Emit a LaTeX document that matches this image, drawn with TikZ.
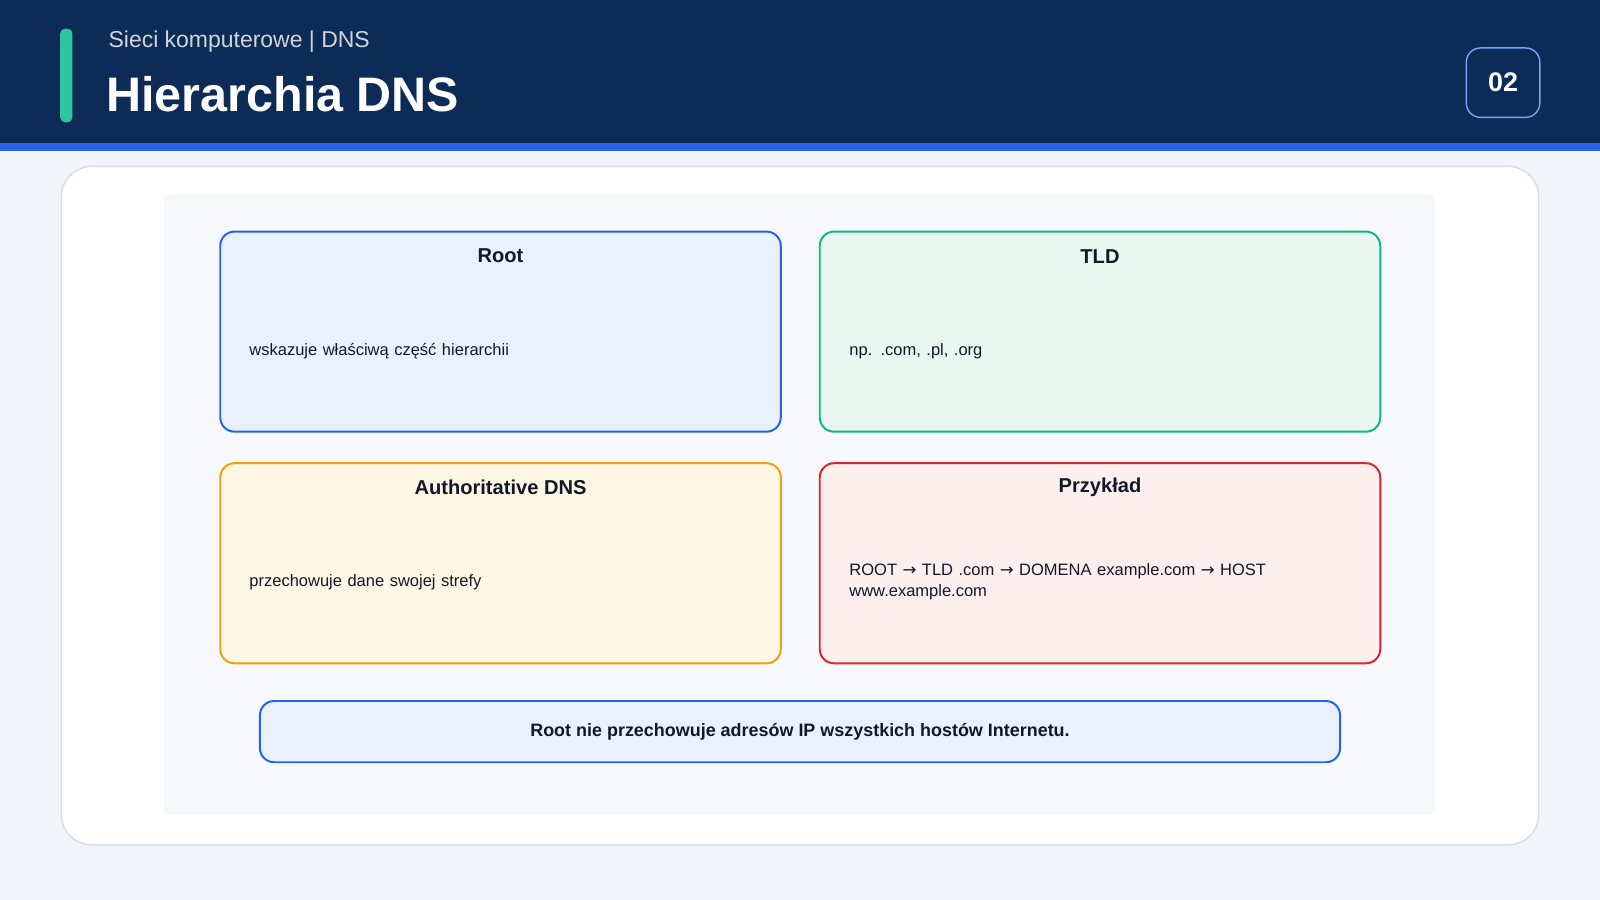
\documentclass[tikz,border=0pt]{standalone}
\usepackage{fontspec}
\setmainfont{Liberation Sans}
\newfontfamily\symfont{DejaVu Sans}
\usetikzlibrary{positioning}
\definecolor{navy}{HTML}{0C2B57}
\definecolor{stripe}{HTML}{2563EB}
\definecolor{accent}{HTML}{2EC4A0}
\definecolor{pagebg}{HTML}{F2F5F9}
\definecolor{panelbg}{HTML}{F6F8FC}
\definecolor{cardline}{HTML}{D5DEEA}
\definecolor{bluefill}{HTML}{EAF1FE}
\definecolor{greenline}{HTML}{10B981}
\definecolor{greenfill}{HTML}{E8F8F1}
\definecolor{orangeline}{HTML}{F59E0B}
\definecolor{orangefill}{HTML}{FEF7E6}
\definecolor{redline}{HTML}{DC2626}
\definecolor{redfill}{HTML}{FEEFEF}
\definecolor{inktext}{HTML}{111827}
\tikzset{
  tile/.style={rectangle, rounded corners=0.14cm, line width=0.55pt, minimum width=5.49cm, minimum height=1.96cm, inner sep=0},
  tiletitle/.style={font=\fontsize{5.6}{7}\selectfont\bfseries, text=inktext, anchor=center},
  tiletext/.style={font=\fontsize{4.6}{6}\selectfont, text=inktext, anchor=west, align=left, text width=4.8cm},
}
\newcommand{\ar}{{\symfont →}}
\begin{document}
\begin{tikzpicture}[x=0.01cm,y=-0.01cm]
\useasboundingbox (0,0) rectangle (1568,882);
\fill[pagebg] (0,0) rectangle (1568,882);
% header
\fill[navy] (0,0) rectangle (1568,140);
\fill[stripe] (0,140) rectangle (1568,148);
\fill[accent, rounded corners=0.05cm] (59,28) rectangle (71,120);
\node[anchor=west, text=white!80!navy, font=\fontsize{6.4}{8}\selectfont] (sub) at (94,41) {Sieci komputerowe | DNS};
\node[anchor=west, text=white, font=\fontsize{13.5}{16}\selectfont\bfseries] (title) at (92,92) {Hierarchia DNS};
\node[rectangle, rounded corners=0.14cm, fill=navy, draw=stripe!60!white, line width=0.4pt, minimum width=0.72cm, minimum height=0.68cm, text=white, font=\fontsize{7.5}{9}\selectfont\bfseries] (badge) at (1473,81) {02};
% card
\draw[cardline, fill=white, rounded corners=0.3cm, line width=0.4pt] (60,163) rectangle (1508,828);
\fill[panelbg] (161,191) rectangle (1406,798);
% tiles
\node[tile, draw=stripe, fill=bluefill] (root) at (490.5,325) {};
\node[tile, draw=greenline, fill=greenfill] (tld) at (1078,325) {};
\node[tile, draw=orangeline, fill=orangefill] (auth) at (490.5,552) {};
\node[tile, draw=redline, fill=redfill] (ex) at (1078,552) {};
\node[tiletitle] at (490.5,251) {Root};
\node[tiletitle] at (1078,251) {TLD};
\node[tiletitle] at (490.5,478) {Authoritative DNS};
\node[tiletitle] at (1078,478) {Przykład};
\node[tiletext] at (232,344) {wskazuje właściwą część hierarchii};
\node[tiletext] at (820,344) {np. .com, .pl, .org};
\node[tiletext] at (232,571) {przechowuje dane swojej strefy};
\node[tiletext] at (820,570) {ROOT \ar{} TLD .com \ar{} DOMENA example.com \ar{} HOST\\www.example.com};
% note
\node[rectangle, rounded corners=0.14cm, draw=stripe, fill=bluefill, line width=0.55pt, minimum width=10.58cm, minimum height=0.6cm, text=inktext, font=\fontsize{5}{6}\selectfont\bfseries] (note) at (784,717) {Root nie przechowuje adresów IP wszystkich hostów Internetu.};
\end{tikzpicture}
\end{document}
